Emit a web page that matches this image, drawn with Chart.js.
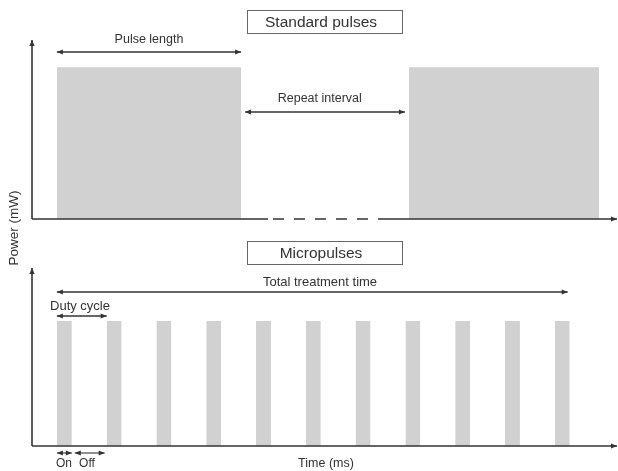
<!DOCTYPE html>
<html>
<head>
<meta charset="utf-8">
<script src="https://cdn.jsdelivr.net/npm/chart.js@4.4.1/dist/chart.umd.min.js"></script>
<style>
  html, body { margin: 0; padding: 0; background: #fff; }
  .wrap { position: relative; width: 618px; height: 471px; }
  canvas { position: absolute; left: 0; top: 0; }
</style>
</head>
<body>
<div class="wrap">
  <canvas id="standardChart" width="618" height="471"></canvas>
  <canvas id="microChart" width="618" height="471"></canvas>
</div>
<script>
// time in arbitrary units, 0 = power axis
const timeMax = 117.5;

// standard pulses
const standardStart = [5, 75.7];
const standardEnd = [42, 113.9];
const standardPower = [1, 1];

// micropulses
const microStart = [5, 15, 25, 35, 45, 55, 65, 75, 85, 95, 105];
const microEnd = [8, 18, 28, 38, 48, 58, 68, 78, 88, 98, 108];
const microPower = [1, 1, 1, 1, 1, 1, 1, 1, 1, 1, 1];

// dimension arrows [from, to]
const pulseLength = [5, 42];
const repeatInterval = [42.8, 74.9];
const baselineBreak = [47.4, 48.4, 67.5, 69.5];
const totalTime = [5, 107.6];
const dutyCycle = [5, 15];
const onTime = [5, 8];
const offTime = [8.6, 14.6];

const ink = '#333';
const pulseFill = '#d1d1d1';
const font = '"Liberation Sans", Arial, sans-serif';

function pulseDatasets(starts, ends, power) {
  return starts.map((s, i) => ({
    data: [{x: s, y: 0}, {x: s, y: power[i]}, {x: ends[i], y: power[i]}, {x: ends[i], y: 0}],
    borderWidth: 0,
    borderColor: 'rgba(0,0,0,0)',
    backgroundColor: pulseFill,
    fill: 'origin',
    pointRadius: 0
  }));
}

function head(ctx, x, y, dx, dy) {
  const len = 6, w = 2.6;
  ctx.beginPath();
  ctx.moveTo(x, y);
  ctx.lineTo(x - dx * len - dy * w, y - dy * len + dx * w);
  ctx.lineTo(x - dx * len + dy * w, y - dy * len - dx * w);
  ctx.closePath();
  ctx.fill();
}

function hArrow(ctx, x1, x2, y, both) {
  ctx.beginPath();
  ctx.moveTo(x1, y);
  ctx.lineTo(x2, y);
  ctx.stroke();
  head(ctx, x2, y, 1, 0);
  if (both) head(ctx, x1, y, -1, 0);
}

function label(ctx, text, x, y, size) {
  ctx.font = size + 'px ' + font;
  ctx.textAlign = 'center';
  ctx.textBaseline = 'middle';
  ctx.fillText(text, x, y);
}

function titleBox(ctx, text, top) {
  ctx.lineWidth = 1;
  ctx.strokeStyle = '#666';
  ctx.strokeRect(247.5, top + 0.5, 155, 23);
  label(ctx, text, 321, top + 12.5, 15.5);
}

function drawAxes(chart) {
  const {ctx, chartArea: a, scales: {y}} = chart;
  const y0 = y.getPixelForValue(0);
  ctx.strokeStyle = ink;
  ctx.fillStyle = ink;
  ctx.lineWidth = 1.6;
  ctx.beginPath();
  ctx.moveTo(a.left, y0);
  ctx.lineTo(a.left, a.top);
  ctx.stroke();
  head(ctx, a.left, a.top, 0, -1);
  return y0;
}

const standardOverlay = {
  id: 'standardOverlay',
  afterDatasetsDraw(chart) {
    const {ctx, chartArea: a, scales: {x, y}} = chart;
    ctx.save();
    const y0 = drawAxes(chart);
    // baseline with the dashed break
    ctx.beginPath();
    ctx.moveTo(a.left, y0);
    ctx.lineTo(x.getPixelForValue(baselineBreak[0]), y0);
    ctx.moveTo(x.getPixelForValue(baselineBreak[3]), y0);
    ctx.lineTo(a.right, y0);
    ctx.stroke();
    head(ctx, a.right, y0, 1, 0);
    ctx.setLineDash([11, 10]);
    ctx.beginPath();
    ctx.moveTo(x.getPixelForValue(baselineBreak[1]), y0);
    ctx.lineTo(x.getPixelForValue(baselineBreak[2]), y0);
    ctx.stroke();
    ctx.setLineDash([]);

    ctx.lineWidth = 1.3;
    hArrow(ctx, x.getPixelForValue(pulseLength[0]), x.getPixelForValue(pulseLength[1]), 52, true);
    label(ctx, 'Pulse length', x.getPixelForValue((pulseLength[0] + pulseLength[1]) / 2), 40, 12.5);
    hArrow(ctx, x.getPixelForValue(repeatInterval[0]), x.getPixelForValue(repeatInterval[1]), 112, true);
    label(ctx, 'Repeat interval', x.getPixelForValue(57.8), 99, 12.5);

    titleBox(ctx, 'Standard pulses', 10);

    // shared power label
    ctx.save();
    ctx.translate(14, 228);
    ctx.rotate(-Math.PI / 2);
    label(ctx, 'Power (mW)', 0, 0, 13.5);
    ctx.restore();
    ctx.restore();
  }
};

const microOverlay = {
  id: 'microOverlay',
  afterDatasetsDraw(chart) {
    const {ctx, chartArea: a, scales: {x}} = chart;
    ctx.save();
    const y0 = drawAxes(chart);
    ctx.beginPath();
    ctx.moveTo(a.left, y0);
    ctx.lineTo(a.right, y0);
    ctx.stroke();
    head(ctx, a.right, y0, 1, 0);

    ctx.lineWidth = 1.3;
    hArrow(ctx, x.getPixelForValue(totalTime[0]), x.getPixelForValue(totalTime[1]), 292, true);
    label(ctx, 'Total treatment time', 320, 282, 13);
    hArrow(ctx, x.getPixelForValue(dutyCycle[0]), x.getPixelForValue(dutyCycle[1]), 316, true);
    label(ctx, 'Duty cycle', 80, 306, 13);

    ctx.lineWidth = 1.1;
    hArrow(ctx, x.getPixelForValue(onTime[0]), x.getPixelForValue(onTime[1]), 453, true);
    hArrow(ctx, x.getPixelForValue(offTime[0]), x.getPixelForValue(offTime[1]), 453, true);
    label(ctx, 'On', 64, 464, 12);
    label(ctx, 'Off', 87, 464, 12);
    label(ctx, 'Time (ms)', 326, 464, 12.5);

    titleBox(ctx, 'Micropulses', 241);
    ctx.restore();
  }
};

function makeChart(id, datasets, yMax, padding, overlay) {
  return new Chart(document.getElementById(id), {
    type: 'line',
    data: { datasets },
    plugins: [overlay],
    options: {
      responsive: false,
      animation: false,
      events: [],
      layout: { padding },
      plugins: { legend: { display: false }, tooltip: { enabled: false } },
      scales: {
        x: { type: 'linear', min: 0, max: timeMax, display: false },
        y: { min: 0, max: yMax, display: false }
      }
    }
  });
}

makeChart('standardChart', pulseDatasets(standardStart, standardEnd, standardPower), 1.18,
  { left: 32, right: 1, top: 40, bottom: 252 }, standardOverlay);
makeChart('microChart', pulseDatasets(microStart, microEnd, microPower), 1.424,
  { left: 32, right: 1, top: 268, bottom: 25 }, microOverlay);
</script>
</body>
</html>
